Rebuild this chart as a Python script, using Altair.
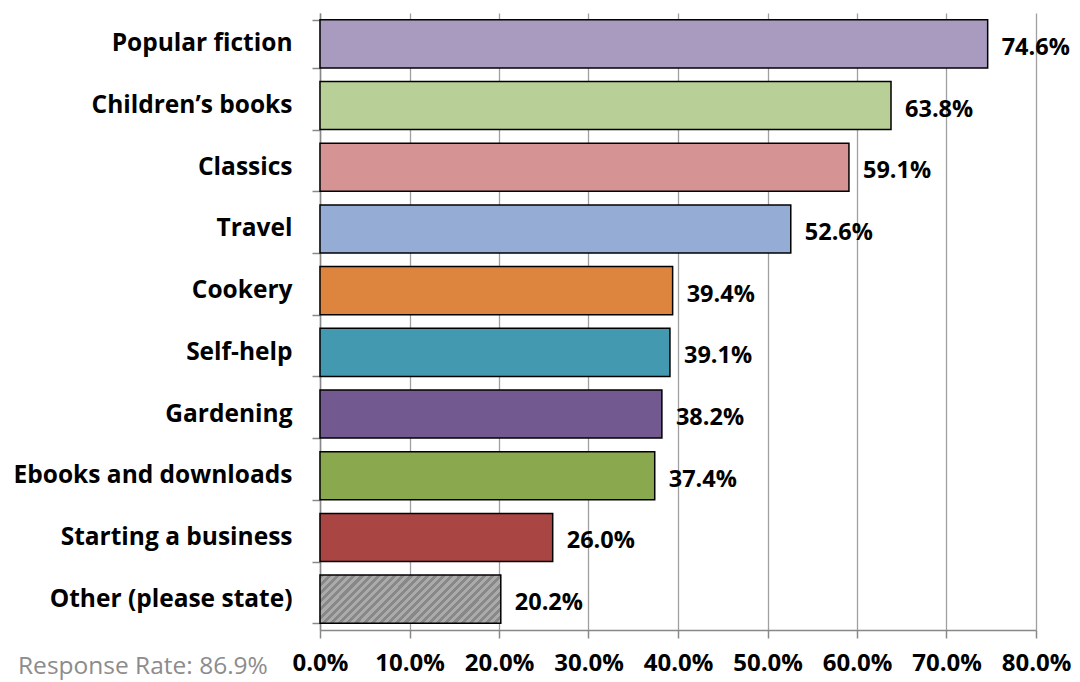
import altair as alt
import pandas as pd

categories = ["Popular fiction", "Children\u2019s books", "Classics", "Travel", "Cookery",
              "Self-help", "Gardening", "Ebooks and downloads", "Starting a business",
              "Other (please state)"]
values = [74.6, 63.8, 59.1, 52.6, 39.4, 39.1, 38.2, 37.4, 26.0, 20.2]
colors = ["#A99BC0", "#B8CF97", "#D59393", "#95ACD4", "#DD843F",
          "#4299B0", "#72598F", "#8AA84E", "#A94543", "#999999"]
note = "Response Rate: 86.9%"
x_ticks = [0, 10, 20, 30, 40, 50, 60, 70, 80]

FONT = "Open Sans"
FS = 24.5
W, H = 716, 617

df = pd.DataFrame({"cat": categories, "val": values, "col": colors})
df["frac"] = df["val"] / 100.0
df["hatched"] = [c == "Other (please state)" for c in categories]

# diagonal hatch approximated with a striped linear gradient
bw = 20.2 / 80 * W
bh = 48.0
r = bh / bw
k = (bw + bh) / (bw * (1 + r * r))
n = 28
stops = []
for i in range(n):
    stops.append({"offset": i / n, "color": "#888888"})
    stops.append({"offset": (i + 0.5) / n, "color": "#888888"})
    stops.append({"offset": (i + 0.5) / n, "color": "#ababab"})
    stops.append({"offset": (i + 1) / n, "color": "#ababab"})
hatch = {"gradient": "linear", "x1": 0, "y1": 0, "x2": k, "y2": k * r, "stops": stops}

yenc = alt.Y("cat:N", sort=categories, title=None,
             scale=alt.Scale(paddingInner=0.22, paddingOuter=0.11),
             axis=alt.Axis(labelFont=FONT, labelFontSize=FS, labelFontWeight="bold",
                           labelColor="black", labelPadding=20, tickSize=8,
                           tickBand="extent", tickColor="#888888", domainColor="#888888",
                           domainWidth=1.5, tickWidth=1.5, grid=False, labelLimit=400))
xenc = alt.X("frac:Q", title=None,
             scale=alt.Scale(domain=[0, 0.8], nice=False),
             axis=alt.Axis(values=[v / 100 for v in x_ticks], format=".1%",
                           labelOverlap=False, labelFlush=False,
                           labelFont=FONT, labelFontSize=24, labelFontWeight="bold",
                           labelColor="black", labelPadding=13, tickSize=8,
                           tickColor="#888888", domainColor="#888888", domainWidth=1.5,
                           tickWidth=1.5, grid=True, gridColor="#a0a0a0", gridWidth=1.3))

base = alt.Chart(df)

bars = base.transform_filter("!datum.hatched").mark_bar(
    stroke="black", strokeWidth=1.5).encode(
    x=xenc, y=yenc, fill=alt.Fill("col:N", scale=None))

hbar = base.transform_filter("datum.hatched").mark_bar(
    stroke="black", strokeWidth=1.5, fill=hatch).encode(x="frac:Q", y=alt.Y("cat:N", sort=categories))

labels = base.mark_text(align="left", baseline="middle", dx=14, dy=4, font=FONT,
                        fontSize=23.5, fontWeight="bold", color="black").encode(
    x="frac:Q", y=alt.Y("cat:N", sort=categories), text=alt.Text("frac:Q", format=".1%"))

note_df = pd.DataFrame({"t": [note]})
note_text = alt.Chart(note_df).mark_text(align="left", baseline="middle", font=FONT,
                                          fontSize=24.5, color="#8c8c8c").encode(
    x=alt.value(-302), y=alt.value(H + 37), text="t:N")

chart = alt.layer(bars, hbar, labels, note_text).properties(
    width=W, height=H,
    autosize=alt.AutoSizeParams(type="none"),
    padding={"left": 312, "top": 5, "right": 36, "bottom": 52},
).configure_view(stroke=None)

chart.save("out.html", embed_options={"renderer": "svg", "actions": False})
